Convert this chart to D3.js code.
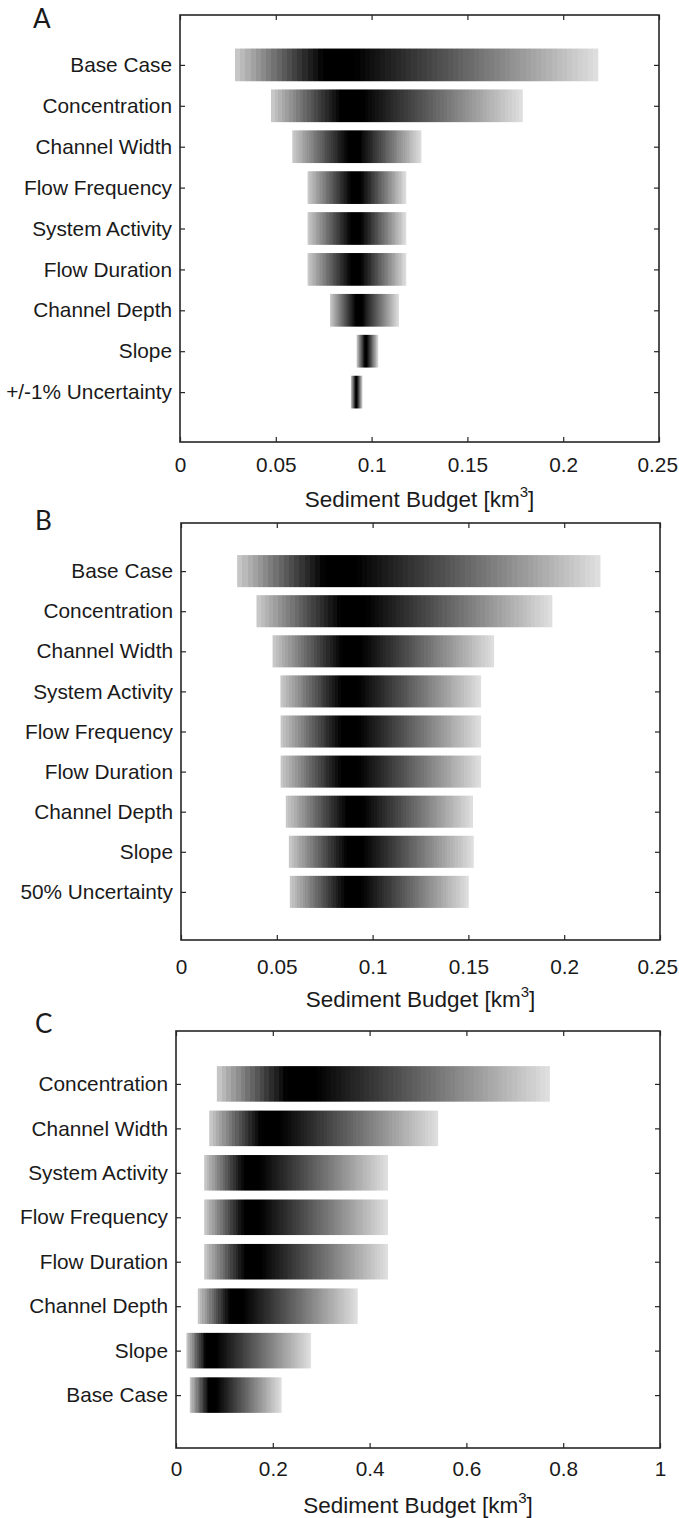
<!DOCTYPE html>
<html><head><meta charset="utf-8">
<script src="https://cdn.jsdelivr.net/npm/d3@7"></script>
<style>
body{margin:0;background:#fff}
text{font-family:"Liberation Sans",Arial,Helvetica,sans-serif;fill:#1a1a1a}
</style>
</head><body>
<svg id="c" width="679" height="1518"></svg>
<script>
// ---------- Data ----------
const catsA  = ["Base Case","Concentration","Channel Width","Flow Frequency","System Activity","Flow Duration","Channel Depth","Slope","+/-1% Uncertainty"];
const minA   = [0.0287,0.0475,0.0586,0.0666,0.0666,0.0666,0.0783,0.0922,0.0892];
const peakA  = [0.080,0.088,0.091,0.092,0.092,0.092,0.093,0.097,0.092];
const maxA   = [0.2183,0.1789,0.1260,0.1181,0.1181,0.1181,0.1143,0.1035,0.0953];

const catsB  = ["Base Case","Concentration","Channel Width","System Activity","Flow Frequency","Flow Duration","Channel Depth","Slope","50% Uncertainty"];
const minB   = [0.0293,0.0394,0.0478,0.0519,0.0520,0.0520,0.0547,0.0563,0.0568];
const peakB  = [0.080,0.088,0.088,0.087,0.087,0.087,0.090,0.090,0.089];
const maxB   = [0.2189,0.1938,0.1634,0.1566,0.1566,0.1566,0.1524,0.1528,0.1502];

const catsC  = ["Concentration","Channel Width","System Activity","Flow Frequency","Flow Duration","Channel Depth","Slope","Base Case"];
const minC   = [0.0844,0.0687,0.0583,0.0583,0.0583,0.0451,0.0217,0.0286];
const peakC  = [0.245,0.187,0.150,0.150,0.152,0.118,0.066,0.072];
const maxC   = [0.7725,0.5415,0.438,0.438,0.438,0.3754,0.2788,0.2182];

const ticksAB      = [0,0.05,0.1,0.15,0.2,0.25];
const tickLabelsAB = ["0","0.05","0.1","0.15","0.2","0.25"];
const ticksC       = [0,0.2,0.4,0.6,0.8,1];
const tickLabelsC  = ["0","0.2","0.4","0.6","0.8","1"];

const panelLetters = ["A","B","C"];
const axisTitle = "Sediment Budget [km";
const axisTitleSup = "3";

// ---------- Layout ----------
const W = 679;
const panels = [
  {letter:panelLetters[0], cats:catsA, mins:minA, peaks:peakA, maxs:maxA, ticks:ticksAB, tickLabels:tickLabelsAB,
   domain:[0,0.25], box:{x0:180,x1:659,y0:15,y1:442}, pad:1.22, letterXY:[33,28], tickPad:15, titleY:507},
  {letter:panelLetters[1], cats:catsB, mins:minB, peaks:peakB, maxs:maxB, ticks:ticksAB, tickLabels:tickLabelsAB,
   domain:[0,0.25], box:{x0:181,x1:660,y0:523,y1:940}, pad:1.2, letterXY:[35,530], tickPad:19, titleY:1007},
  {letter:panelLetters[2], cats:catsC, mins:minC, peaks:peakC, maxs:maxC, ticks:ticksC, tickLabels:tickLabelsC,
   domain:[0,1], box:{x0:176,x1:660,y0:1031,y1:1448}, pad:1.19, letterXY:[35,1033], tickPad:13, titleY:1513}
];

const svg = d3.select("#c");
const defs = svg.append("defs");
const AX = "#262626";

function lightness(v, lo, pk, hi){
  if (v <= pk){
    const t = (pk - v)/(pk - lo);
    return 0.80*Math.max(0,(t-0.1)/0.9);
  } else {
    const t = (v - pk)/(hi - pk);
    return 0.88*Math.max(0,(t-0.08)/0.92);
  }
}

panels.forEach((p, pi) => {
  const x = d3.scaleLinear().domain(p.domain).range([p.box.x0, p.box.x1]);
  const y = d3.scalePoint().domain(p.cats).range([p.box.y0, p.box.y1]).padding(p.pad);
  const bh = y.step()*0.8;
  const g = svg.append("g");

  const rows = p.cats.map((c,i)=>({c, i, lo:p.mins[i], pk:p.peaks[i], hi:p.maxs[i]}));

  rows.forEach(d => {
    const lg = defs.append("linearGradient").attr("id",`gr${pi}_${d.i}`)
      .attr("x1",0).attr("x2",1).attr("y1",0).attr("y2",0);
    const N = 70;
    for (let k=0;k<N;k++){
      const vm = d.lo + (d.hi-d.lo)*(k+0.5)/N;
      const L = Math.round(255*lightness(vm,d.lo,d.pk,d.hi));
      const col = d3.rgb(L,L,L).formatHex();
      lg.append("stop").attr("offset",k/N).attr("stop-color",col);
      lg.append("stop").attr("offset",(k+1)/N).attr("stop-color",col);
    }
  });

  g.selectAll("rect.bar").data(rows).join("rect").attr("class","bar")
    .attr("x", d=>x(d.lo)).attr("width", d=>x(d.hi)-x(d.lo))
    .attr("y", d=>y(d.c)-bh/2).attr("height", bh)
    .attr("fill", d=>`url(#gr${pi}_${d.i})`);

  const fmt = (d,i)=>p.tickLabels[i];
  const bx = g.append("g").attr("transform",`translate(0,${p.box.y1})`)
    .call(d3.axisBottom(x).tickValues(p.ticks).tickFormat(fmt).tickSizeInner(-5).tickSizeOuter(0).tickPadding(p.tickPad));
  const tx = g.append("g").attr("transform",`translate(0,${p.box.y0})`)
    .call(d3.axisTop(x).tickValues(p.ticks).tickFormat("").tickSizeInner(-5).tickSizeOuter(0));
  const ly = g.append("g").attr("transform",`translate(${p.box.x0},0)`)
    .call(d3.axisLeft(y).tickSizeInner(-5).tickSizeOuter(0).tickPadding(8));
  const ry = g.append("g").attr("transform",`translate(${p.box.x1},0)`)
    .call(d3.axisRight(y).tickFormat("").tickSizeInner(-5).tickSizeOuter(0));
  [bx,tx,ly,ry].forEach(a=>{
    a.select(".domain").remove();
    a.selectAll(".tick line").attr("stroke",AX).attr("stroke-width",1.2);
    a.selectAll(".tick text").attr("fill","#1a1a1a").style("font-size","20.8px")
      .style("font-family","'Liberation Sans',Arial,sans-serif");
  });
  // keep the last tick label inside the page
  bx.selectAll(".tick").each(function(){
    const tk = d3.select(this), tt = tk.select("text");
    const bb = this.getBBox();
    const m = this.getCTM();
    const right = m.e + bb.x + bb.width;
    if (right > W - 1) tt.attr("dx", -(right - (W - 1)));
  });

  g.append("rect").attr("x",p.box.x0).attr("y",p.box.y0)
    .attr("width",p.box.x1-p.box.x0).attr("height",p.box.y1-p.box.y0)
    .attr("fill","none").attr("stroke",AX).attr("stroke-width",1.6);

  const t = g.append("text").attr("x",(p.box.x0+p.box.x1)/2).attr("y",p.titleY)
    .attr("text-anchor","middle").style("font-size","22.5px");
  t.append("tspan").text(axisTitle);
  t.append("tspan").attr("dy",-10).style("font-size","15px").text(axisTitleSup);
  t.append("tspan").attr("dy",10).text("]");

  g.append("text").attr("x",p.letterXY[0]).attr("y",p.letterXY[1])
    .style("font-family","Lato,'Open Sans',sans-serif").style("font-size","26px").attr("fill","#000")
    .text(p.letter);
});
</script>
</body></html>
